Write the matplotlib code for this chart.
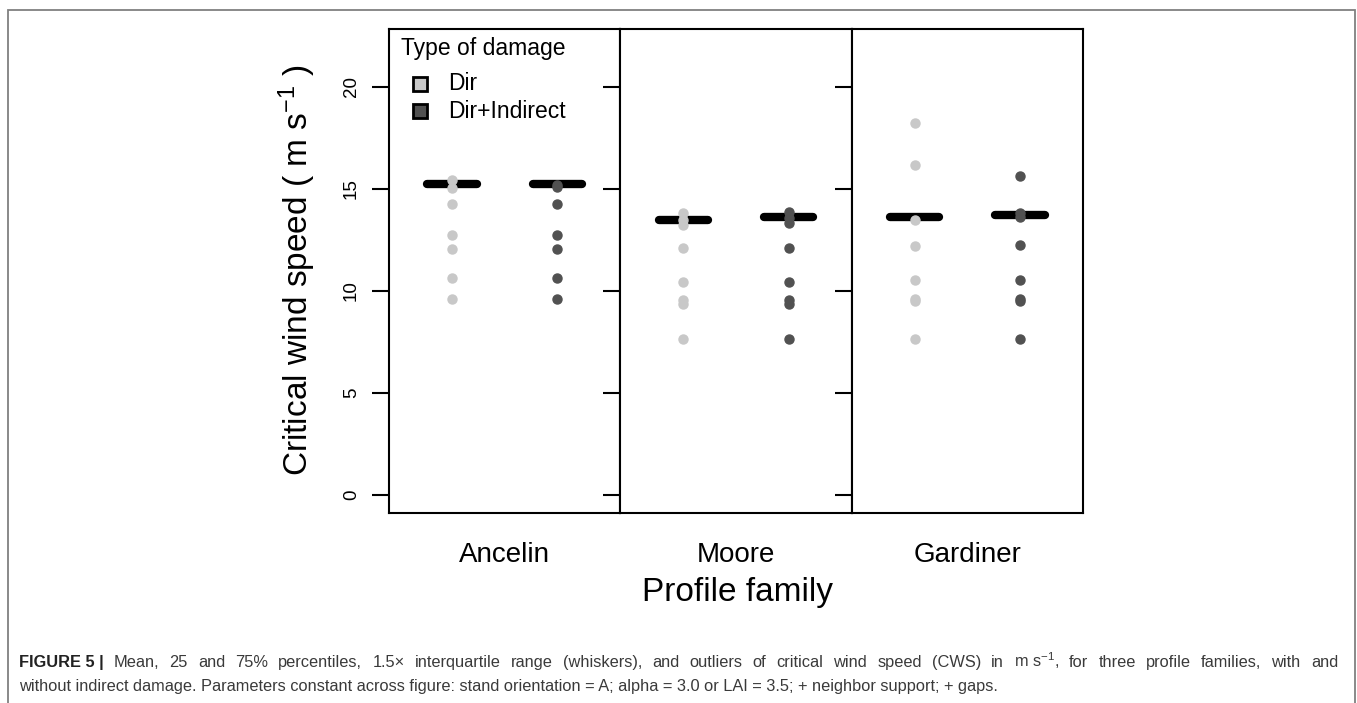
import matplotlib
matplotlib.use("Agg")
import matplotlib.pyplot as plt
from matplotlib.lines import Line2D
from matplotlib.patches import Rectangle

plt.rcParams['font.family'] = ['Liberation Sans', 'DejaVu Sans']
plt.rcParams['mathtext.fontset'] = 'custom'
plt.rcParams['mathtext.rm'] = 'Liberation Sans'
plt.rcParams['mathtext.it'] = 'Liberation Sans:italic'
plt.rcParams['mathtext.bf'] = 'Liberation Sans:bold'

# ---------------- data ----------------
families = ["Ancelin", "Moore", "Gardiner"]
damage_types = ["Dir", "Dir+Indirect"]

dir_points = {
    "Ancelin":  [15.44, 15.03, 14.25, 12.75, 12.04, 10.62, 9.59],
    "Moore":    [13.81, 13.50, 13.24, 12.09, 10.46, 9.55, 9.38, 7.63],
    "Gardiner": [18.22, 16.16, 13.48, 12.22, 10.54, 9.60, 9.50, 7.66],
}
indirect_points = {
    "Ancelin":  [15.20, 15.08, 14.25, 12.75, 12.04, 10.62, 9.59],
    "Moore":    [13.85, 13.60, 13.32, 12.12, 10.46, 9.55, 9.38, 7.63],
    "Gardiner": [15.62, 13.80, 13.65, 12.27, 10.54, 9.60, 9.50, 7.66],
}
dir_means = {"Ancelin": 15.25, "Moore": 13.46, "Gardiner": 13.61}
indirect_means = {"Ancelin": 15.25, "Moore": 13.64, "Gardiner": 13.73}

yticks = [0, 5, 10, 15, 20]
colors = {"Dir": "#c8c8c8", "Dir+Indirect": "#515151"}

caption_bold = "FIGURE 5 |"
caption_line1 = ("Mean, 25 and 75% percentiles, 1.5\u00d7 interquartile range (whiskers), and outliers of "
                 "critical wind speed (CWS) in m s$^{-1}$, for three profile families, with and")
caption_line2 = ("without indirect damage. Parameters constant across figure: stand orientation = A; "
                 "alpha = 3.0 or LAI = 3.5; + neighbor support; + gaps.")

# ---------------- figure ----------------
W, H = 1357, 703
fig = plt.figure(figsize=(W / 100, H / 100), dpi=100)
fig.patch.set_facecolor("white")


def fx(px):
    return px / W


def fy(py):
    return 1 - py / H


left, right = fx(389), fx(1083)
bottom, top = fy(513), fy(29)
pw = (right - left) / 3
axes = [fig.add_axes([left + i * pw, bottom, pw, top - bottom]) for i in range(3)]

for i, (ax, fam) in enumerate(zip(axes, families)):
    ax.set_xlim(0.4, 2.6)
    ax.set_ylim(-0.88, 22.84)
    for s in ax.spines.values():
        s.set_linewidth(1.5)
        s.set_color("black")
    ax.set_yticks(yticks)
    ax.tick_params(axis='y', direction='out', length=12, width=1.5,
                   labelsize=13.5, pad=9, labelrotation=90,
                   labelleft=(i == 0))
    if i == 0:
        for lab in ax.get_yticklabels():
            lab.set_va('center')
    ax.set_xticks([1.5])
    ax.set_xticklabels([fam])
    ax.tick_params(axis='x', length=0, labelsize=20, pad=21)

    series = [(1, dir_means[fam], dir_points[fam], colors["Dir"]),
              (2, indirect_means[fam], indirect_points[fam], colors["Dir+Indirect"])]
    for xpos, m, pts, c in series:
        ax.plot([xpos - 0.235, xpos + 0.235], [m, m], color="black", lw=6,
                solid_capstyle="round", zorder=2)
        ax.plot([xpos] * len(pts), pts, linestyle="none", marker="o",
                markersize=6.5, markerfacecolor=c, markeredgecolor=c,
                zorder=3)

# legend (drawn manually to match the spacing)
fig.text(fx(401), fy(48), "Type of damage", fontsize=16.5, ha="left", va="center")
for d, py in zip(damage_types, [84, 111]):
    fig.add_artist(Line2D([fx(420)], [fy(py)], transform=fig.transFigure,
                          linestyle="none", marker="s", markersize=10,
                          markerfacecolor=colors[d], markeredgecolor="black",
                          markeredgewidth=2))
    fig.text(fx(448), fy(py), d, fontsize=16.5, ha="left", va="center")

# axis labels
fig.text(fx(297), fy(270), "Critical wind speed ( m s$^{-1}$ )",
         rotation=90, ha="center", va="center", fontsize=24)
fig.text(fx(737), fy(593), "Profile family", ha="center", va="center",
         fontsize=24)

# caption (justified first line)
fig.canvas.draw()
r = fig.canvas.get_renderer()
cap_size = 11.8
y1, y2 = fy(667), fy(691)
x_left, x_right = 19, 1338
words = [(caption_bold, "bold", "#222222")] + \
        [(w, "normal", "#3a3a3a") for w in caption_line1.replace("m s$^{-1}$", "m\u00a0s$^{-1}$").split(" ")]
texts = []
for w, weight, col in words:
    t = fig.text(0, y1, w.replace("\u00a0", " "), fontsize=cap_size, fontweight=weight,
                 color=col, ha="left", va="baseline")
    texts.append(t)
widths = [t.get_window_extent(r).width for t in texts]
gap = ((x_right - x_left) - sum(widths)) / (len(texts) - 1)
x = x_left
for t, wd in zip(texts, widths):
    t.set_x(fx(x))
    x += wd + gap
fig.text(fx(x_left), y2, caption_line2, fontsize=cap_size, color="#3a3a3a",
         ha="left", va="baseline")

# outer frame
fig.patches.append(Rectangle((fx(8), -0.05), (1355 - 8) / W, 1.05 - 10 / H,
                             transform=fig.transFigure, fill=False,
                             edgecolor="#808080", linewidth=1.3))

fig.savefig("out.png", dpi=100)
